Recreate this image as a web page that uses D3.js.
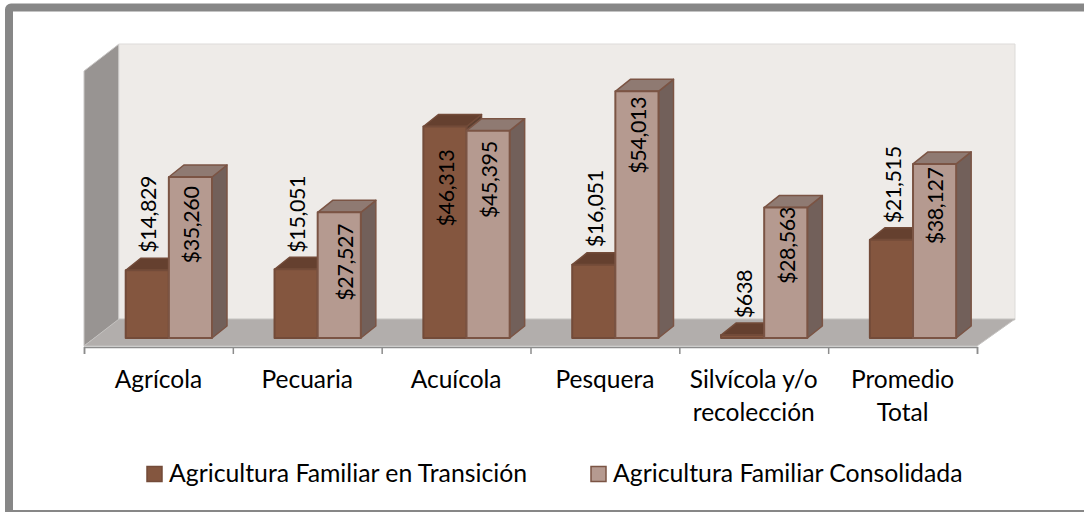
<!DOCTYPE html>
<html><head><meta charset="utf-8">
<script src="https://cdn.jsdelivr.net/npm/d3@7"></script>
<style>html,body{margin:0;padding:0;background:#fff;overflow:hidden}svg{display:block}text{font-family:Lato,"Open Sans",sans-serif;fill:#000}</style>
</head><body><div id="c"></div>
<script>
const categories=[["Agrícola"],["Pecuaria"],["Acuícola"],["Pesquera"],["Silvícola y/o","recolección"],["Promedio","Total"]];
const seriesNames=["Agricultura Familiar en Transición","Agricultura Familiar Consolidada"];
const transicion=[14829,15051,46313,16051,638,21515];
const consolidada=[35260,27527,45395,54013,28563,38127];
const W=1084,H=512,dx=15,dy=-12;
const palette=[{front:"#84563f",top:"#65402f",side:"#5c3f30",stroke:"#734b39"},{front:"#b59a90",top:"#8f7a72",side:"#72605a",stroke:"#7b5444"}];
// label centre offset from bar top and horizontal nudge, per series and category
const labelShift=[[-56,-55,61.5,-56,-41,-55],[48,50,49,44,38,42]];
const labelNudge=[[0,0,0,0,0.5,1],[0,5,0,0,0,-1]];
const svg=d3.select("#c").append("svg").attr("width",W).attr("height",H);
svg.append("rect").attr("x",9).attr("y",7.5).attr("width",1095).attr("height",506.5).attr("rx",2).attr("fill","#fff").attr("stroke","#878787").attr("stroke-width",8);
const x=d3.scaleBand().domain(categories.map((d,i)=>i)).range([84,977]);
const inner=d3.scaleBand().domain([0,1]).range([41.7,128]);
const y=d3.scaleLinear().domain([0,60000]).range([338,64]);
const poly=(pts)=>pts.map(p=>p.join(",")).join(" ");
const y0=y(0);
// walls
const wall=svg.append("g");
wall.append("polygon").attr("points",poly([[84,71],[119,44],[119,320],[84,346]])).attr("fill","#989492").attr("stroke","#c9c7c6").attr("stroke-width",1);
wall.append("polygon").attr("points",poly([[119,44],[1015,44],[1015,320],[119,320]])).attr("fill","#eeebe8").attr("stroke","#dddbd9").attr("stroke-width",1);
wall.append("polygon").attr("points",poly([[84,346],[119,319],[1015,319],[977,346]])).attr("fill","#b2aeac").attr("stroke","#c4c2c0").attr("stroke-width",1);
// bars
const series=[transicion,consolidada];
categories.forEach((c,i)=>{series.forEach((vals,s)=>{
  const g=svg.append("g").attr("stroke-linejoin","round"),col=palette[s];
  const l=x(i)+inner(s),r=l+inner.bandwidth(),t=y(vals[i]);
  g.append("polygon").attr("points",poly([[r,t],[r+dx,t+dy],[r+dx,y0+dy],[r,y0]])).attr("fill",col.side).attr("stroke",col.stroke).attr("stroke-width",1.5);
  g.append("polygon").attr("points",poly([[l,t],[l+dx,t+dy],[r+dx,t+dy],[r,t]])).attr("fill",col.top).attr("stroke",col.stroke).attr("stroke-width",1.5);
  g.append("rect").attr("x",l).attr("y",t).attr("width",r-l).attr("height",y0-t).attr("fill",col.front).attr("stroke",col.stroke).attr("stroke-width",2);
});});
// axis
const tickScale=d3.scaleLinear().domain([0,6]).range([84,977]);
const axG=svg.append("g").attr("transform","translate(0,347)").call(d3.axisBottom(tickScale).ticks(6).tickSize(7).tickSizeOuter(7).tickFormat(""));
axG.selectAll("path,line").attr("stroke","#8c8c8c").attr("stroke-width",1.5);
const catG=svg.append("g").attr("transform","translate(0,347)").call(d3.axisBottom(x).tickSize(0).tickFormat(""));
catG.select("path").remove();
catG.selectAll(".tick text").remove();
catG.selectAll(".tick").append("text").attr("text-anchor","middle").attr("font-size",24.5).each(function(d){
  d3.select(this).selectAll("tspan").data(categories[d]).join("tspan").attr("x",0).attr("y",(t,j)=>41+j*33).text(t=>t);
});
// labels
series.forEach((vals,s)=>vals.forEach((v,i)=>{
  const cx=x(i)+inner(s)+inner.bandwidth()/2+9+labelNudge[s][i];
  svg.append("text").attr("transform",`translate(${cx},${y(v)+labelShift[s][i]}) rotate(-90)`).attr("text-anchor","middle").attr("font-size",21.5).attr("letter-spacing",-0.4).text(d3.format("$,")(v));
}));
// legend
const legX=[147,591],legTx=[169,613];
seriesNames.forEach((n,s)=>{
  svg.append("rect").attr("x",legX[s]).attr("y",466.5).attr("width",15).attr("height",15).attr("fill",palette[s].front).attr("stroke",palette[s].stroke).attr("stroke-width",1.5);
  svg.append("text").attr("x",legTx[s]).attr("y",482).attr("font-size",24.8).text(n);
});
</script></body></html>
